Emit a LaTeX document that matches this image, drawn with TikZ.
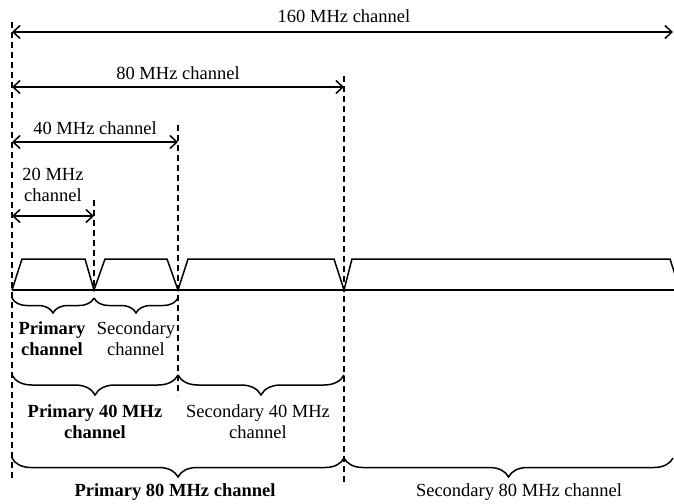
\documentclass[tikz,border=0pt]{standalone}
\usepackage{fontspec}
\setmainfont{Liberation Serif}
\usetikzlibrary{arrows.meta,decorations.pathreplacing}
\begin{document}
\begin{tikzpicture}[x=1pt,y=-1pt,
  dim/.style={line width=1.5pt,{Straight Barb[length=7pt,width=13pt]}-{Straight Barb[length=7pt,width=13pt]}},
  guide/.style={line width=1.4pt,dash pattern=on 6pt off 4pt},
  spec/.style={line width=1.5pt,line join=miter},
  brc/.style={line width=1.5pt,decorate,decoration={brace,mirror,amplitude=#1}},
  lbl/.style={font=\fontsize{18.5}{21}\selectfont,align=center,inner sep=0pt},
  blbl/.style={lbl,font=\fontsize{18.5}{21}\selectfont\bfseries}]
\useasboundingbox (0,0) rectangle (674,503);
% guide coordinates
\coordinate (gA1) at (12,22);   \coordinate (gA2) at (12,478);
\coordinate (gB1) at (94,200);  \coordinate (gB2) at (94,290);
\coordinate (gC1) at (178,125); \coordinate (gC2) at (178,395);
\coordinate (gD1) at (344,76);  \coordinate (gD2) at (344,483);
\draw[guide] (gA1) -- (gA2);
\draw[guide] (gB1) -- (gB2);
\draw[guide] (gC1) -- (gC2);
\draw[guide] (gD1) -- (gD2);
% dimension arrows
\coordinate (a160l) at (12,32);  \coordinate (a160r) at (673,32);
\coordinate (a80l) at (12,87);   \coordinate (a80r) at (344,87);
\coordinate (a40l) at (12,142);  \coordinate (a40r) at (178,142);
\coordinate (a20l) at (12,216);  \coordinate (a20r) at (94,216);
\draw[dim] (a160l) -- (a160r);
\draw[dim] (a80l) -- (a80r);
\draw[dim] (a40l) -- (a40r);
\draw[dim] (a20l) -- (a20r);
\node[lbl] (t160) at (344,16) {160 MHz channel};
\node[lbl] (t80) at (178,73) {80 MHz channel};
\node[lbl] (t40) at (95,128) {40 MHz channel};
\node[lbl] (t20) at (53,185) {20 MHz\\channel};
% spectrum
\coordinate (b0) at (12,290); \coordinate (b4) at (680,290);
\draw[spec] (b0) -- (b4);
\draw[spec] (12,290) -- (22,259) -- (85,259) -- (94,290)
  -- (105,259) -- (167,259) -- (178,290)
  -- (188,259) -- (334,259) -- (344,290)
  -- (352,259) -- (670,259) -- (680,290);
% braces
\coordinate (s0) at (12,298); \coordinate (s1) at (94,298); \coordinate (s2) at (178,298);
\coordinate (m0) at (12,375); \coordinate (m1) at (178,375); \coordinate (m2) at (344,375);
\coordinate (l0) at (12,458); \coordinate (l1) at (344,458); \coordinate (l2) at (673,458);
\draw[brc=15pt] (s0) -- (s1);
\draw[brc=15pt] (s1) -- (s2);
\draw[brc=20pt] (m0) -- (m1);
\draw[brc=20pt] (m1) -- (m2);
\draw[brc=19pt] (l0) -- (l1);
\draw[brc=19pt] (l1) -- (l2);
\node[blbl] (pc) at (52,339) {Primary\\channel};
\node[lbl] (sc) at (136,339) {Secondary\\channel};
\node[blbl] (p40) at (95,422) {Primary 40 MHz\\channel};
\node[lbl] (s40) at (258,422) {Secondary 40 MHz\\channel};
\node[blbl] (p80) at (175,492) {Primary 80 MHz channel};
\node[lbl] (s80) at (519,492) {Secondary 80 MHz channel};
\end{tikzpicture}
\end{document}
